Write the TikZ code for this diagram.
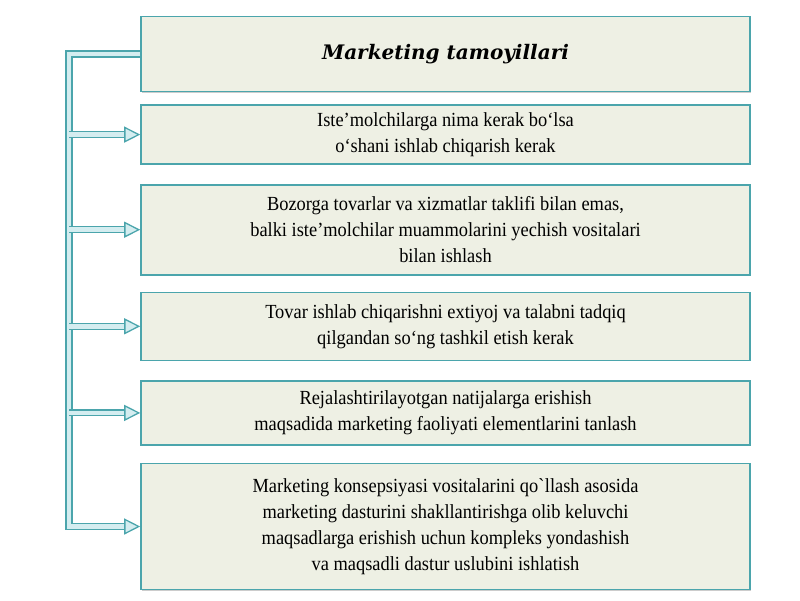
\documentclass[tikz,border=0pt]{standalone}
\usepackage{fontspec}
\setmainfont[FakeStretch=0.92]{Liberation Serif}
\newfontfamily\headfont{DejaVu Serif}
\usetikzlibrary{arrows.meta, positioning, shadows}
\definecolor{edgeteal}{RGB}{75,165,172}
\definecolor{boxfill}{RGB}{238,240,228}
\definecolor{pipefill}{RGB}{212,237,240}

\begin{document}
\begin{tikzpicture}[
    x=1pt, y=1pt,
    node distance=16pt,
    block/.style={rectangle, draw=edgeteal, line width=1.6pt, fill=boxfill, minimum width=609pt, align=center, inner sep=2pt, font=\fontsize{20}{26}\selectfont, drop shadow={shadow xshift=0.6pt, shadow yshift=-1pt, opacity=0.4}},
    headblock/.style={block, font=\headfont\fontsize{20}{25}\selectfont\bfseries\itshape},
    pipe/.style={draw=edgeteal, line width=1.3pt, double=pipefill, double distance=4.5pt},
    pipearrow/.style={pipe, -{Triangle[length=16pt, width=16pt, fill=pipefill]}}
]
\useasboundingbox (0,0) rectangle (800,-600);

% Title
\node[headblock, minimum height=75pt] (title) at (445.5,-54) {Marketing tamoyillari};

% Principles
\node[block, below=12pt of title, minimum height=59pt] (need) {Iste’molchilarga nima kerak bo‘lsa\\o‘shani ishlab chiqarish kerak};
\node[block, below=19pt of need, minimum height=90pt] (market) {Bozorga tovarlar va xizmatlar taklifi bilan emas,\\balki iste’molchilar muammolarini yechish vositalari\\bilan ishlash};
\node[block, below=16pt of market, minimum height=68pt] (research) {Tovar ishlab chiqarishni extiyoj va talabni tadqiq\\qilgandan so‘ng tashkil etish kerak};
\node[block, below=19pt of research, minimum height=64pt] (elements) {Rejalashtirilayotgan natijalarga erishish\\maqsadida marketing faoliyati elementlarini tanlash};
\node[block, below=17pt of elements, minimum height=126pt] (program) {Marketing konsepsiyasi vositalarini qo\textasciigrave llash asosida\\marketing dasturini shakllantirishga olib keluvchi\\maqsadlarga erishish uchun kompleks yondashish\\va maqsadli dastur uslubini ishlatish};

% Bus
\coordinate (busx) at (69,0);
\draw[pipearrow] (title.west) -| (busx |- program.west) -- (program.west);

% Branches
\foreach \n in {need, market, research, elements}
    \draw[pipearrow] (busx |- \n.west) -- (\n.west);

\end{tikzpicture}
\end{document}
